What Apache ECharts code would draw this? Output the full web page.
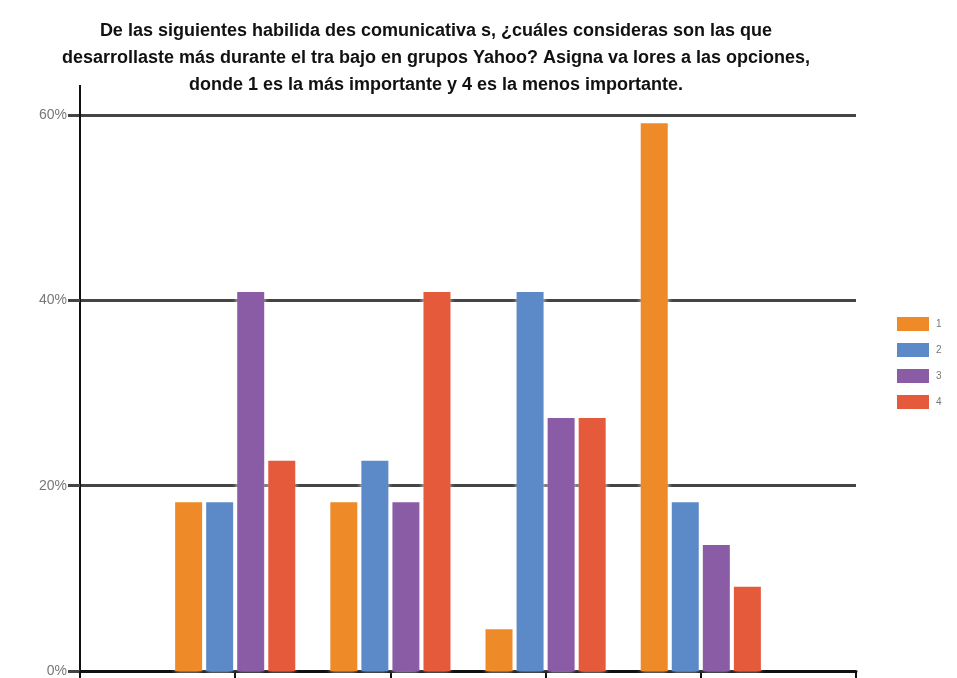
<!DOCTYPE html>
<html>
<head>
<meta charset="utf-8">
<script src="https://cdn.jsdelivr.net/npm/echarts@6/dist/echarts.min.js"></script>
<style>
  html, body { margin: 0; padding: 0; background: #fff; }
  #chart { width: 957px; height: 678px; }
</style>
</head>
<body>
<div id="chart"></div>
<script>
// Ranking groups (category names fall below the visible area)
const categories = ['', '', '', '', '', ''];
const seriesNames = ['1', '2', '3', '4'];
// Share of answers (%) per group, one array per rank
const rank1 = [18.2, 18.2, 4.5, 59.1];
const rank2 = [18.2, 22.7, 40.9, 18.2];
const rank3 = [40.9, 18.2, 27.3, 13.6];
const rank4 = [22.7, 40.9, 27.3, 9.1];
const yTicks = [0, 20, 40, 60];

const colors = ['#EE8A27', '#5C8AC8', '#8A5CA6', '#E65A3C'];
const titleText = 'De las siguientes habilida des comunicativa s, ¿cuáles consideras son las que\n' +
  'desarrollaste más durante el tra bajo en grupos Yahoo? Asigna va lores a las opciones,\n' +
  'donde 1 es la más importante y 4 es la menos importante.';

// groups sit on the inner ticks; first and last slots stay empty
const pad = arr => [null, ...arr, null];

const chart = echarts.init(document.getElementById('chart'));
chart.setOption({
  animation: false,
  color: colors,
  title: {
    text: titleText,
    left: 431,
    top: 13,
    textAlign: 'center',
    textStyle: {
      fontFamily: 'Liberation Sans',
      fontSize: 18,
      fontWeight: 'bold',
      color: '#111',
      lineHeight: 27
    }
  },
  legend: {
    orient: 'vertical',
    left: 892,
    top: 312,
    itemWidth: 32,
    itemHeight: 14,
    itemGap: 12,
    icon: 'rect',
    textStyle: { fontSize: 10, color: '#777', fontFamily: 'Liberation Sans', padding: [0, 0, 0, 2] },
    data: seriesNames
  },
  grid: { left: 80, right: 101, top: 115, bottom: 4, containLabel: false },
  xAxis: {
    type: 'category',
    data: categories,
    boundaryGap: false,
    axisLine: { lineStyle: { color: '#111', width: 3 } },
    axisTick: { show: true, length: 8, lineStyle: { color: '#111', width: 2 } },
    axisLabel: { show: false },
    splitLine: { show: false }
  },
  yAxis: {
    type: 'value',
    min: yTicks[0],
    max: yTicks[yTicks.length - 1],
    interval: 20,
    axisLine: {
      show: true,
      lineStyle: { color: '#111', width: 2 },
      symbol: ['none', 'rect'],
      symbolSize: [2, 60]
    },
    axisTick: { show: true, length: 12, lineStyle: { color: '#444', width: 3 } },
    axisLabel: {
      formatter: '{value}%',
      color: '#777',
      fontSize: 14,
      fontFamily: 'Liberation Sans',
      margin: 13
    },
    splitLine: { show: true, lineStyle: { color: '#444', width: 3 } }
  },
  series: [rank1, rank2, rank3, rank4].map((vals, i) => ({
    name: seriesNames[i],
    type: 'bar',
    data: pad(vals),
    barWidth: 27,
    barGap: '15%',
    itemStyle: { shadowColor: 'rgba(255,255,255,1)', shadowBlur: 5 }
  }))
});
</script>
</body>
</html>
